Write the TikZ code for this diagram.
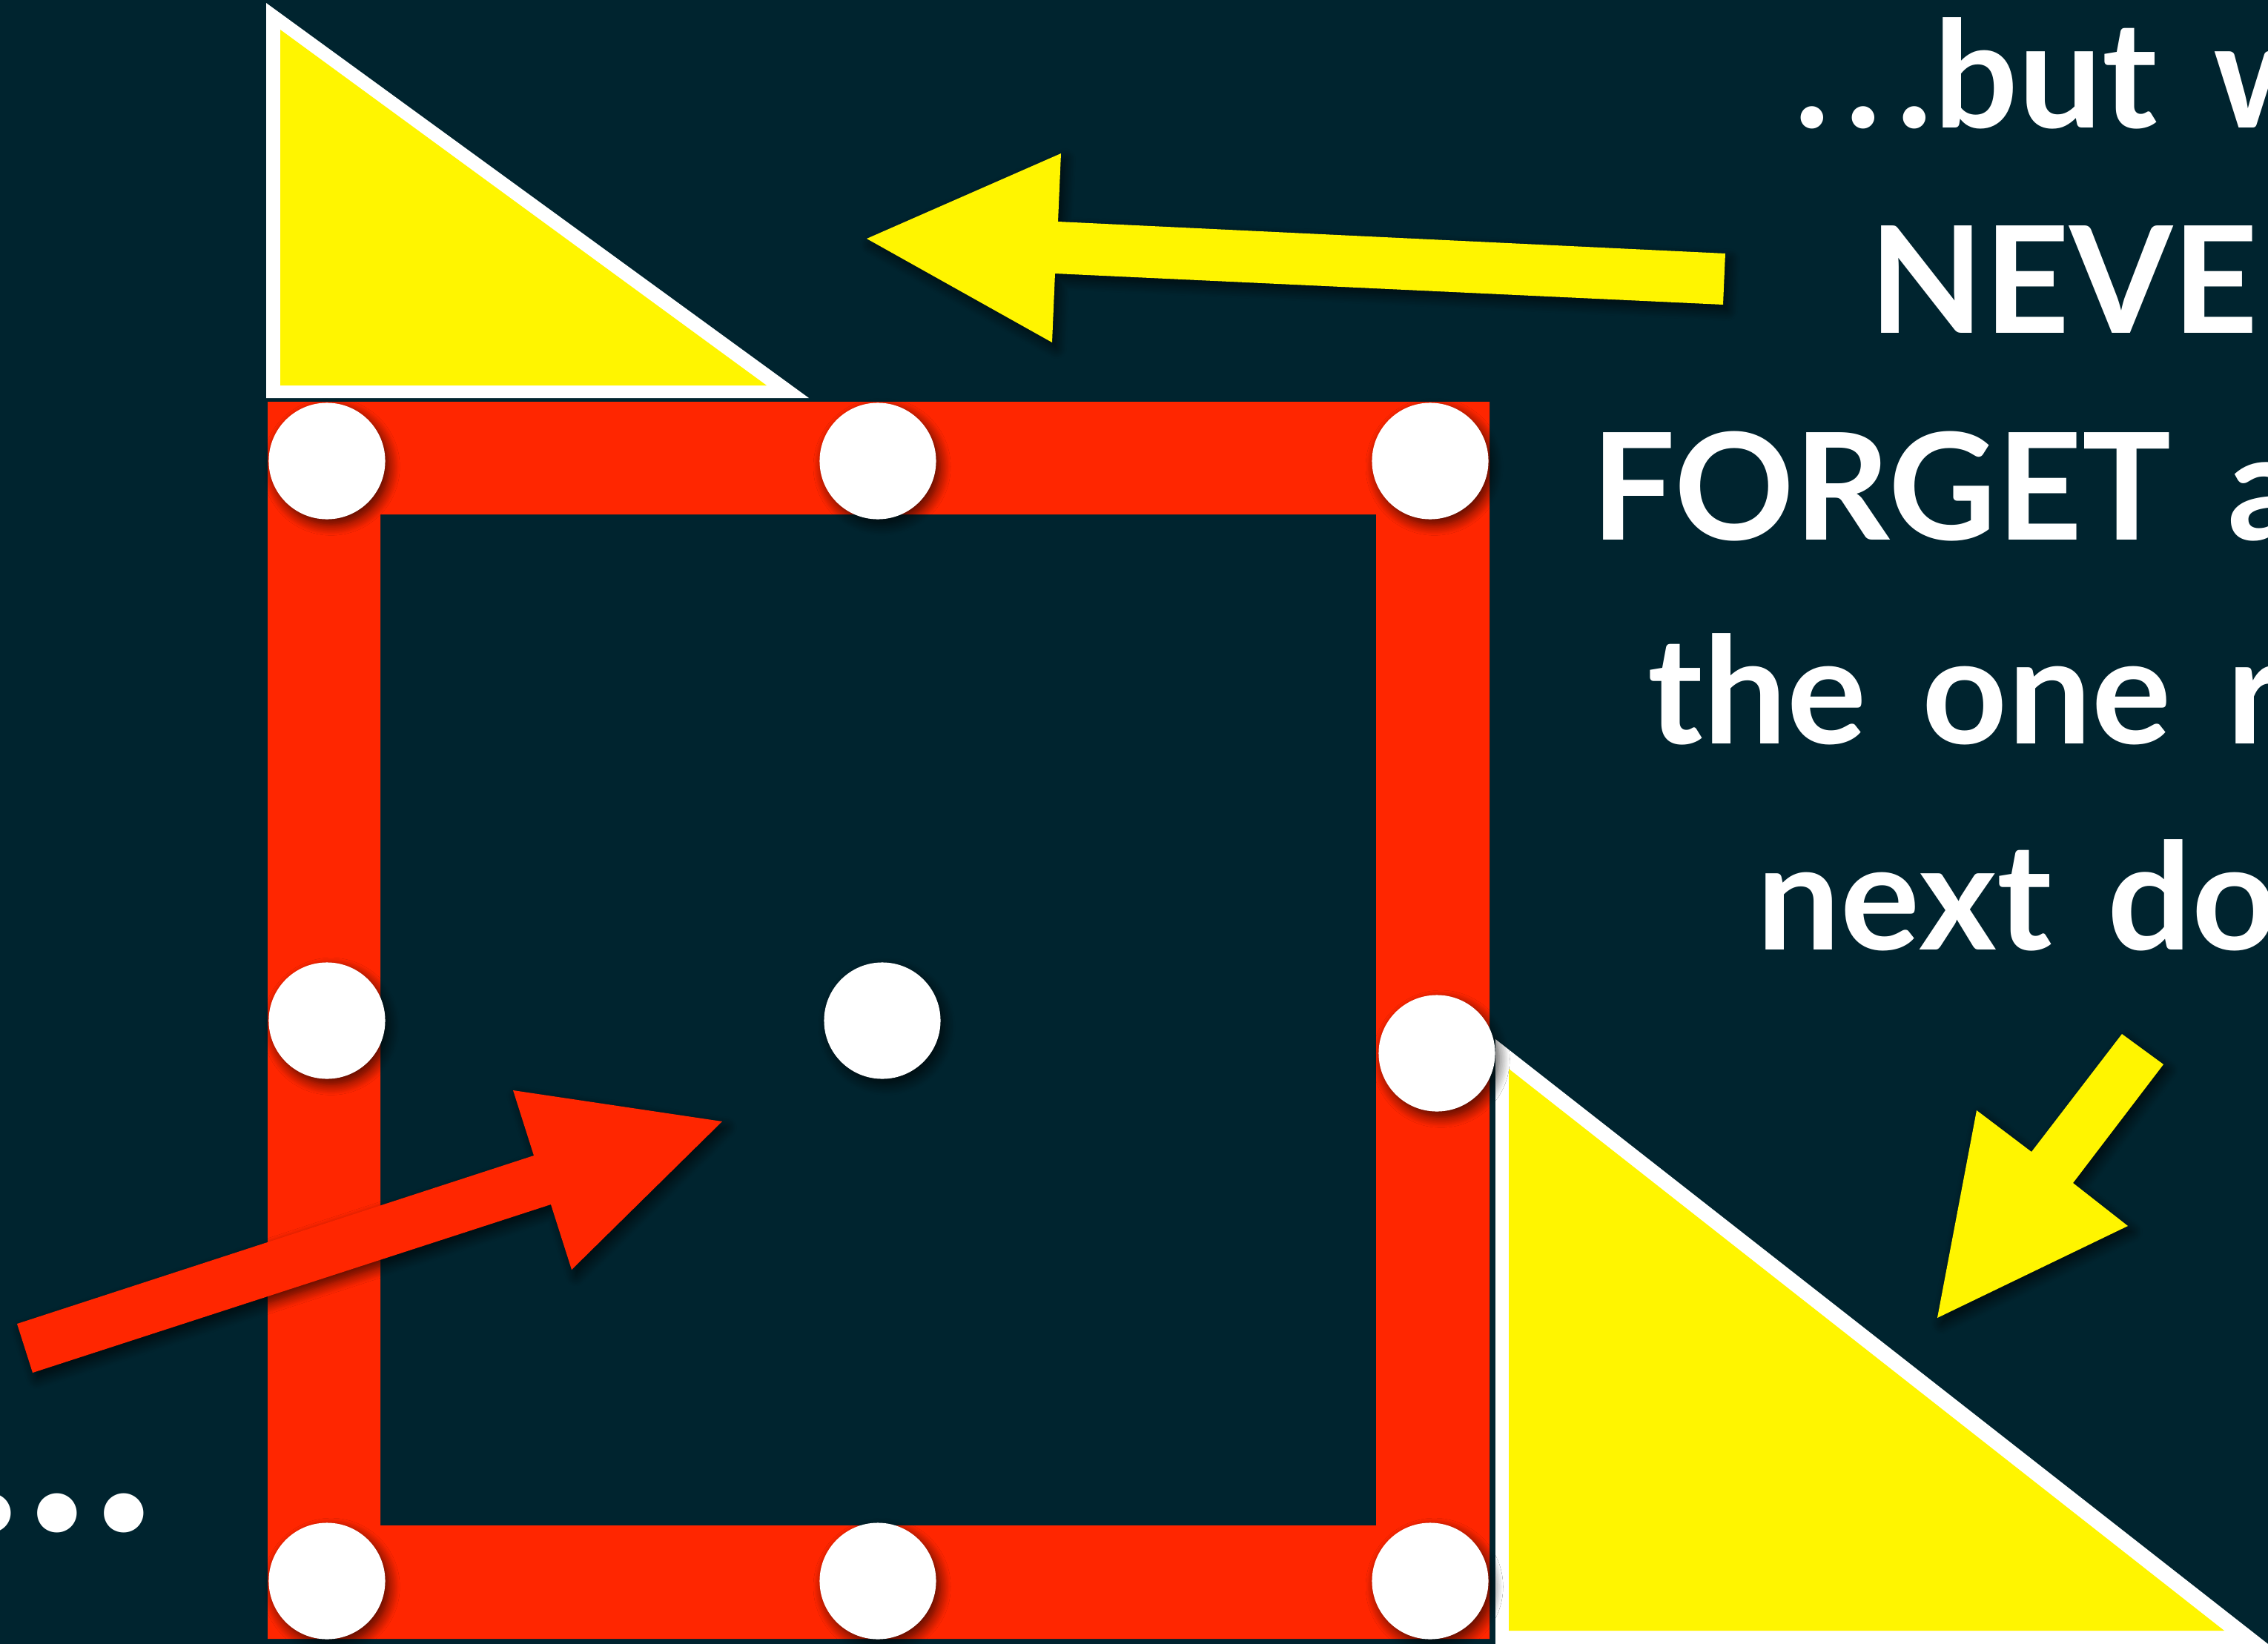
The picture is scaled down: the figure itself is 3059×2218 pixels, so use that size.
\documentclass[tikz,border=0pt]{standalone}
\usepackage{fontspec}
\setmainfont{Lato}[WordSpace=1.55]
\usetikzlibrary{shadows.blur}
\definecolor{deepsea}{RGB}{0,36,47}
\definecolor{framered}{RGB}{255,38,0}
\definecolor{signyellow}{RGB}{255,245,0}

\begin{document}
\begin{tikzpicture}[x=0.01cm,y=-0.01cm,
  soft/.style={blur shadow={shadow xshift=1.6pt,shadow yshift=-2.2pt,
      shadow blur radius=4pt,shadow blur steps=10,shadow opacity=70}},
  dot/.style={circle,fill=white,inner sep=0pt,minimum size=1.57cm,soft},
  slide/.style={font=\fontsize{57}{70}\selectfont\bfseries,
      text=white,inner sep=0pt,anchor=base west}]
  \useasboundingbox (0,0) rectangle (3059,2218);
  \fill[deepsea] (0,0) rectangle (3059,2218);
  \clip (0,0) rectangle (3059,2218);
  % upper triangle
  \fill[white] (359,4) -- (359,537) -- (1091,537) -- cycle;
  \fill[signyellow] (378,40) -- (378,520) -- (1034,520) -- cycle;
  % red frame
  \fill[framered,even odd rule] (361,542) rectangle (2009,2211)
    (513,694) rectangle (1856,2058);
  % lower triangle
  \fill[white] (2017,1402) -- (2017,2218) -- (3059,2218) -- cycle;
  \fill[signyellow] (2035,1442) -- (2035,2200) -- (3000,2200) -- cycle;
  % the nine dots
  \foreach \name/\px/\py in {tl/441/622,tm/1184/622,tr/1929/622,
      ml/441/1377,mm/1190/1377,mr/1938/1421,
      bl/441/2133,bm/1184/2133,br/1929/2133}
    \node[dot] (\name) at (\px,\py) {};
  % red arrow into the frame
  \fill[framered,soft] (23,1786) -- (720,1559) -- (692,1471) -- (974,1513)
    -- (771,1713) -- (743,1625) -- (44,1852) -- cycle;
  % yellow arrows
  \fill[signyellow,soft] (2327,342) -- (1427,299) -- (1431,207) -- (1169,322)
    -- (1419,462) -- (1423,369) -- (2324,411) -- cycle;
  \fill[signyellow,soft] (2862,1395) -- (2740,1554) -- (2666,1498) -- (2613,1778)
    -- (2870,1654) -- (2796,1596) -- (2918,1436) -- cycle;
  % text
  \node[slide] (but) at (2420,172) {.\kern0.21cm.\kern0.21cm.\kern0.03cm but w};
  \node[slide] (never) at (2521,449) {NEVE};
  \node[slide] (forget) at (2146,728) {FORGET a};
  \node[slide] (one) at (2222,1003) {the one r};
  \node[slide] (door) at (2369,1281) {next do};
  \node[slide,font=\fontsize{100}{100}\selectfont\bfseries,anchor=base east]
    (more) at (209,2065) {.\kern0.055cm.\kern0.055cm.};
\end{tikzpicture}
\end{document}
